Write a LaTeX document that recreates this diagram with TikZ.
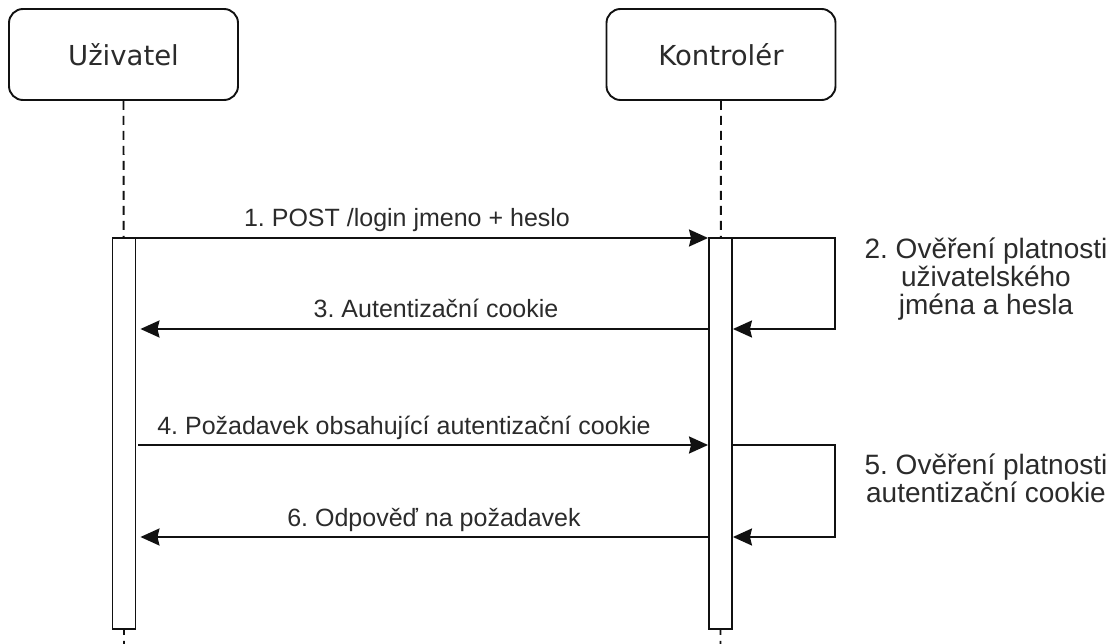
\documentclass[tikz,border=0pt]{standalone}
\usepackage{fontspec}
\setmainfont{Liberation Sans}
\newfontfamily\titlefont{DejaVu Sans}
\usetikzlibrary{arrows.meta}
\definecolor{ink}{HTML}{111111}
\definecolor{txt}{HTML}{2B2B2B}
\frenchspacing
\begin{document}
\begin{tikzpicture}[x=1pt,y=-1pt,
  lifebox/.style={draw=ink, line width=1.9pt, rounded corners=14pt, fill=white,
    minimum width=229pt, minimum height=91pt, inner sep=0pt,
    font=\titlefont\fontsize{27.5}{32}\selectfont, text=txt},
  lifeline/.style={draw=ink, line width=1.9pt, dash pattern=on 9pt off 6pt},
  actbar/.style={draw=ink, line width=1.9pt, fill=white, minimum width=23pt,
    minimum height=391pt, inner sep=0pt},
  msg/.style={draw=ink, line width=1.9pt,
    -{Stealth[length=19pt, width=17pt, inset=2pt]}},
  msglabel/.style={anchor=base, inner sep=0pt, text=txt,
    font=\fontsize{25}{28}\selectfont},
  notelabel/.style={anchor=north, inner sep=0pt, text=txt, align=center,
    font=\fontsize{28}{28}\selectfont}
]
\useasboundingbox[fill=white] (0,0) rectangle (1112,644);

% participants
\node[lifebox] (user) at (123.5,54.5) {Uživatel};
\node[lifebox] (ctrl) at (721,54.5) {Kontrolér};

% lifeline ends at the bottom edge
\coordinate (userEnd) at (124,644);
\coordinate (ctrlEnd) at (720.5,644);
\draw[lifeline] (user.south) -- (userEnd);
\draw[lifeline] (ctrl.south) -- (ctrlEnd);

% activation bars
\node[actbar, anchor=north] (actU) at (124,237) {};
\node[actbar, anchor=north] (actK) at (720.5,237) {};

% 1. login request
\draw[msg] (actU.east |- 0,238) -- (actK.west |- 0,238);
\node[msglabel] (l1) at (407,227) {1. POST /login jmeno + heslo};

% 2. credential check (self call)
\coordinate (loopA) at (835,238);
\coordinate (loopB) at (835,329);
\draw[msg] (actK.east |- loopA) -- (loopA) -- (loopB) -- (actK.east |- loopB);
\node[notelabel] (l2) at (986,238) {2. Ověření platnosti\\uživatelského\\jména a hesla};

% 3. cookie returned
\draw[msg, shorten >=4pt] (actK.west |- 0,329) -- (actU.east |- 0,329);
\node[msglabel] (l3) at (436,318) {3. Autentizační cookie};

% 4. request with cookie
\draw[msg, shorten <=2pt] (actU.east |- 0,445) -- (actK.west |- 0,445);
\node[msglabel] (l4) at (404,435) {4. Požadavek obsahující autentizační cookie};

% 5. cookie check (self call)
\coordinate (loopC) at (835,445);
\coordinate (loopD) at (835,537);
\draw[msg] (actK.east |- loopC) -- (loopC) -- (loopD) -- (actK.east |- loopD);
\node[notelabel] (l5) at (986,454) {5. Ověření platnosti\\autentizační cookie};

% 6. response
\draw[msg, shorten >=4pt] (actK.west |- 0,537) -- (actU.east |- 0,537);
\node[msglabel] (l6) at (434,526) {6. Odpověď na požadavek};
\end{tikzpicture}
\end{document}
